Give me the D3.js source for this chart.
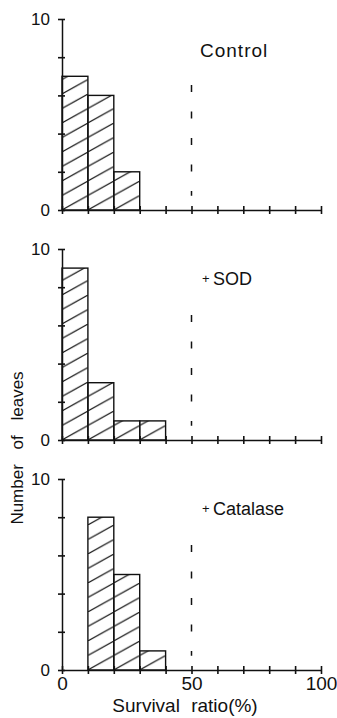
<!DOCTYPE html>
<html>
<head>
<meta charset="utf-8">
<script src="https://cdn.jsdelivr.net/npm/d3@7"></script>
<style>
  body { margin: 0; background: #fff; }
  text { font-family: "Liberation Sans", Arial, sans-serif; fill: #111; }
</style>
</head>
<body>
<svg id="chart"></svg>
<script>
// histogram bins (survival ratio %, bin start) and leaf counts per panel
var binStarts = [0, 10, 20, 30];
var controlCounts = [7, 6, 2, 0];
var sodCounts = [9, 3, 1, 1];
var catalaseCounts = [0, 8, 5, 1];
var panelNames = ["Control", "SOD", "Catalase"];
var panelPlus = [false, true, true];

var xTicks = [0, 10, 20, 30, 40, 50, 60, 70, 80, 90, 100];
var xTickLabels = [0, 50, 100];
var yTicks = [0, 2, 4, 6, 8, 10];
var yTickLabels = [0, 10];

var cutoff = 50;
var cutoffRange = [0.75, 6.55];
var binWidth = 10;

var width = 337;
var height = 718;
var margin = {top: 19, left: 62};
var plotWidth = 259;
var panelHeight = 191;
var panelStep = 230;

var svg = d3.select("#chart")
            .attr("width", width)
            .attr("height", height);

var x = d3.scaleLinear()
          .domain([0, 100])
          .range([0, plotWidth]);

var y = d3.scaleLinear()
          .domain([0, 10])
          .range([panelHeight, 0]);

// hatch: one diagonal per tile, tile as wide as a bin so lines meet bar corners
var tileW = x(binWidth) - x(0);
var tileH = 14.5;
svg.append("defs").append("pattern")
   .attr("id", "hatch")
   .attr("patternUnits", "userSpaceOnUse")
   .attr("x", 0)
   .attr("y", panelHeight)
   .attr("width", tileW)
   .attr("height", tileH)
   .append("path")
   .attr("d", "M-1," + (tileH + tileH / tileW) + "L" + (tileW + 1) + "," + (-tileH / tileW))
   .attr("stroke", "#111")
   .attr("stroke-width", 1.1);

var allCounts = [controlCounts, sodCounts, catalaseCounts];

allCounts.forEach(function(counts, i){
  var g = svg.append("g")
             .attr("transform", "translate(" + margin.left + "," + (margin.top + i * panelStep) + ")");

  var bins = binStarts.map(function(b, j){
    return {start: b, count: counts[j]};
  }).filter(function(d){ return d.count > 0; });

  g.selectAll(".bar")
   .data(bins)
   .enter().append("rect")
   .attr("class", "bar")
   .attr("x", function(d){ return x(d.start); })
   .attr("width", function(d){ return x(d.start + binWidth) - x(d.start); })
   .attr("y", function(d){ return y(d.count); })
   .attr("height", function(d){ return panelHeight - y(d.count); })
   .attr("fill", "url(#hatch)")
   .attr("stroke", "#111")
   .attr("stroke-width", 1.4);

  var isLast = i === allCounts.length - 1;

  var xAxis = d3.axisBottom(x)
                .tickValues(xTicks)
                .tickSize(4)
                .tickSizeOuter(0)
                .tickPadding(3)
                .tickFormat(function(d){
                  return isLast && xTickLabels.indexOf(d) >= 0 ? d : "";
                });

  var xg = g.append("g")
            .attr("transform", "translate(0," + panelHeight + ")")
            .call(xAxis);
  xg.selectAll(".tick line").attr("y1", -4).attr("y2", 4);
  xg.selectAll("text").attr("font-size", 19).attr("font-family", "Liberation Sans, Arial, sans-serif");

  var yAxis = d3.axisLeft(y)
                .tickValues(yTicks)
                .tickSize(6)
                .tickSizeOuter(0)
                .tickPadding(6)
                .tickFormat(function(d){
                  return yTickLabels.indexOf(d) >= 0 ? d : "";
                });

  var yg = g.append("g").call(yAxis);
  yg.selectAll(".tick line").attr("x1", 3).attr("x2", -4);
  yg.selectAll("text").attr("font-size", 17).attr("font-family", "Liberation Sans, Arial, sans-serif");

  g.selectAll(".domain").attr("stroke", "#111").attr("stroke-width", 1.5);
  g.selectAll(".tick line").attr("stroke", "#111").attr("stroke-width", 1.6);

  // 50% cut-off
  g.append("line")
   .attr("x1", x(cutoff))
   .attr("x2", x(cutoff))
   .attr("y1", y(cutoffRange[1]))
   .attr("y2", y(cutoffRange[0]))
   .attr("stroke", "#111")
   .attr("stroke-width", 1.5)
   .attr("stroke-dasharray", "7,19.5");

  if (panelPlus[i]) {
    g.append("text")
     .attr("x", 140)
     .attr("y", 34)
     .attr("font-size", 13)
     .text("+");
    g.append("text")
     .attr("x", 151)
     .attr("y", 36)
     .attr("font-size", 18)
     .text(panelNames[i]);
  } else {
    g.append("text")
     .attr("x", 138)
     .attr("y", 38)
     .attr("font-size", 19)
     .attr("letter-spacing", 1)
     .text(panelNames[i]);
  }
});

svg.append("text")
   .attr("transform", "translate(23,448) rotate(-90)")
   .attr("text-anchor", "middle")
   .attr("font-size", 17)
   .attr("word-spacing", 10)
   .text("Number of leaves");

svg.append("text")
   .attr("x", 185)
   .attr("y", 712)
   .attr("text-anchor", "middle")
   .attr("font-size", 19)
   .attr("word-spacing", 6)
   .text("Survival ratio(%)");
</script>
</body>
</html>
